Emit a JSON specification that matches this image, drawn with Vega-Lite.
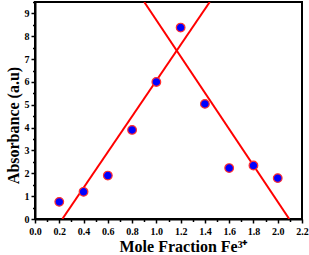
{
  "$schema": "https://vega.github.io/schema/vega-lite/v6.json",
  "autosize": "none",
  "width": 267,
  "height": 217,
  "padding": {"left": 35, "top": 2, "right": 7, "bottom": 36},
  "background": "white",
  "config": {
    "view": {"stroke": "black", "strokeWidth": 2}
  },
  "datasets": {
    "pts": [
      {"x": 0.2, "y": 0.75},
      {"x": 0.4, "y": 1.19},
      {"x": 0.6, "y": 1.9},
      {"x": 0.8, "y": 3.9},
      {"x": 1.0, "y": 6.0},
      {"x": 1.2, "y": 8.38},
      {"x": 1.4, "y": 5.04},
      {"x": 1.6, "y": 2.23},
      {"x": 1.8, "y": 2.34},
      {"x": 2.0, "y": 1.79}
    ],
    "fit": [
      {"line": "a", "x": 0.225, "y": 0},
      {"line": "a", "x": 1.44, "y": 9.5},
      {"line": "b", "x": 0.9, "y": 9.5},
      {"line": "b", "x": 2.095, "y": 0}
    ]
  },
  "encoding": {
    "x": {
      "field": "x", "type": "quantitative",
      "scale": {"domain": [0, 2.2], "nice": false},
      "axis": {
        "title": "Mole Fraction Fe³⁺",
        "titleFont": "Liberation Serif",
        "titleFontWeight": "bold",
        "titleColor": "black",
        "titleFontSize": 16,
        "titleX": 148,
        "grid": false,
        "ticks": true,
        "tickColor": "black",
        "tickWidth": 1.5,
        "tickSize": {"condition": {"test": "round(datum.value*10)%2==1", "value": 2.5}, "value": 4},
        "domainColor": "black",
        "domainWidth": 2,
        "values": [0,0.1,0.2,0.3,0.4,0.5,0.6,0.7,0.8,0.9,1.0,1.1,1.2,1.3,1.4,1.5,1.6,1.7,1.8,1.9,2.0,2.1,2.2],
        "labelExpr": "round(datum.value*10)%2==0 ? format(datum.value,'.1f') : ''",
        "labelFont": "Liberation Serif",
        "labelFontWeight": "bold",
        "labelFontSize": 10,
        "labelColor": "black",
        "labelOverlap": false,
        "labelFlush": false,
        "labelPadding": 3,
        "titlePadding": 2
      }
    },
    "y": {
      "field": "y", "type": "quantitative",
      "scale": {"domain": [0, 9.5], "nice": false},
      "axis": {
        "title": "Absorbance (a.u)",
        "titleFont": "Liberation Serif",
        "titleFontWeight": "bold",
        "titleColor": "black",
        "titleFontSize": 16,
        "titleY": 123,
        "grid": false,
        "ticks": true,
        "tickColor": "black",
        "tickWidth": 1.5,
        "tickSize": {"condition": {"test": "datum.value%1!=0", "value": 2.5}, "value": 4},
        "domainColor": "black",
        "domainWidth": 2,
        "values": [0,0.5,1,1.5,2,2.5,3,3.5,4,4.5,5,5.5,6,6.5,7,7.5,8,8.5,9,9.5],
        "labelExpr": "datum.value%1==0 ? format(datum.value,'d') : ''",
        "labelFont": "Liberation Serif",
        "labelFontWeight": "bold",
        "labelFontSize": 10,
        "labelColor": "black",
        "labelOverlap": false,
        "labelFlush": false,
        "labelPadding": 2,
        "titlePadding": 3
      }
    }
  },
  "layer": [
    {
      "data": {"name": "fit"},
      "mark": {"type": "line", "color": "#ff0000", "strokeWidth": 2, "clip": true},
      "encoding": {"detail": {"field": "line"}}
    },
    {
      "data": {"name": "pts"},
      "mark": {"type": "point", "filled": true, "fill": "#0000ff", "stroke": "#ff3030", "strokeWidth": 1.2, "size": 75, "opacity": 1},
      "encoding": {}
    }
  ]
}
